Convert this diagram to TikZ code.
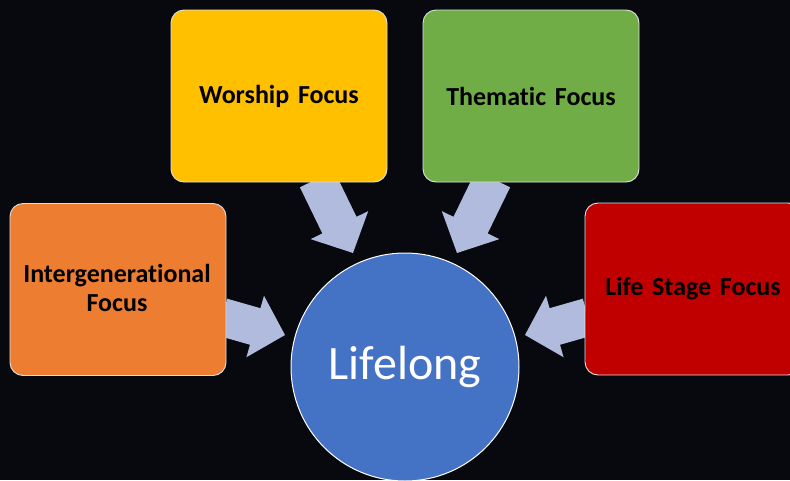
\documentclass[tikz,border=0pt]{standalone}
\usepackage{fontspec}
\setmainfont{Carlito}[Ligatures=NoCommon]
\usetikzlibrary{calc}
\definecolor{bgc}{RGB}{7,9,14}
\definecolor{orangec}{RGB}{237,125,49}
\definecolor{yellowc}{RGB}{255,192,0}
\definecolor{greenc}{RGB}{112,173,71}
\definecolor{redc}{RGB}{192,0,0}
\definecolor{bluec}{RGB}{68,114,196}
\definecolor{arrowc}{RGB}{176,187,222}
\definecolor{edgec}{RGB}{225,225,225}
\newcommand\blockarrow[2]{%
  \coordinate (hb) at ($(#2)!31pt!(#1)$);
  \fill[arrowc] ($(#1)!19pt!90:(#2)$) -- ($(hb)!19pt!-90:(#1)$) -- ($(hb)!32pt!-90:(#1)$) -- (#2)
    -- ($(hb)!32pt!90:(#1)$) -- ($(hb)!19pt!90:(#1)$) -- ($(#1)!19pt!-90:(#2)$) -- cycle;}
\tikzset{
  focus/.style={draw=edgec, line width=0.9pt, rounded corners=13pt, minimum width=216pt,
    minimum height=172pt, text width=210pt, align=center, font=\bfseries\fontsize{26}{29}\selectfont, text=black, inner sep=0pt},
}
\begin{document}
\begin{tikzpicture}[x=1pt,y=-1pt]
\fill[bgc] (0,0) rectangle (790,480);
\useasboundingbox (0,0) rectangle (790,480);
% arrow anchors
\coordinate (a1s) at (222,317); \coordinate (a1t) at (285,335);
\coordinate (a2s) at (317,179); \coordinate (a2t) at (353,253);
\coordinate (a3s) at (493,179); \coordinate (a3t) at (457,253);
\coordinate (a4s) at (588,317); \coordinate (a4t) at (525,335);
\blockarrow{a1s}{a1t}
\blockarrow{a2s}{a2t}
\blockarrow{a3s}{a3t}
\blockarrow{a4s}{a4t}
% boxes
\node[focus, fill=orangec] (inter) at (118,289.5) {};
\node[font=\bfseries\fontsize{26}{29}\selectfont, align=center, inner sep=0pt] (intertext) at (117,287.5) {Intergenerational\\Focus};
\node[focus, fill=yellowc] (wor) at (279,96) {Worship Focus};
\node[focus, fill=greenc] (the) at (531,96) {Thematic Focus};
\node[focus, fill=redc] (life) at (693,289) {Life Stage Focus};
% circle
\node[circle, draw=white, line width=1pt, fill=bluec, minimum size=228pt, inner sep=0pt,
  text=white, font=\fontsize{48}{56}\selectfont] (core) at (405,367) {Lifelong};
\end{tikzpicture}
\end{document}
